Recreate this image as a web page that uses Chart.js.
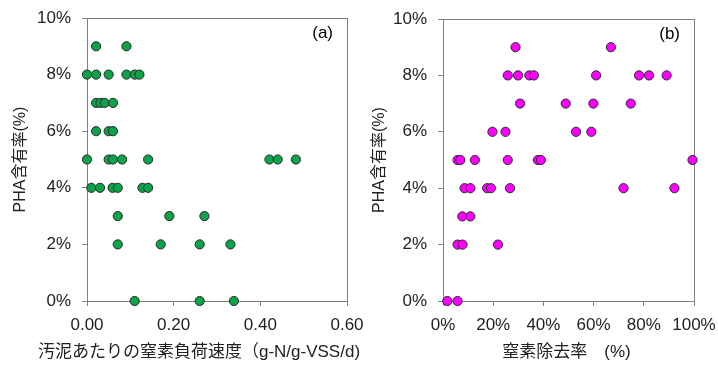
<!DOCTYPE html>
<html>
<head>
<meta charset="utf-8">
<script src="https://cdn.jsdelivr.net/npm/chart.js@4/dist/chart.umd.min.js"></script>
<style>
  body { margin: 0; background: #fff; }
  canvas { position: absolute; top: 0; }
  #chartA { left: 0; }
  #chartB { left: 359px; }
</style>
</head>
<body>
<canvas id="chartA" width="380" height="365"></canvas>
<canvas id="chartB" width="359" height="365"></canvas>
<script>
// (a) nitrogen loading rate per sludge vs PHA content
var loadRate = [0.021, 0.091,
  0.0, 0.021, 0.050, 0.091, 0.110, 0.121,
  0.021, 0.031, 0.041, 0.060,
  0.021, 0.050, 0.060,
  0.0, 0.050, 0.060, 0.081, 0.141, 0.421, 0.440, 0.482,
  0.010, 0.030, 0.059, 0.071, 0.128, 0.141,
  0.071, 0.190, 0.271,
  0.071, 0.170, 0.260, 0.331,
  0.110, 0.260, 0.339];
var phaA = [9, 9,
  8, 8, 8, 8, 8, 8,
  7, 7, 7, 7,
  6, 6, 6,
  5, 5, 5, 5, 5, 5, 5, 5,
  4, 4, 4, 4, 4, 4,
  3, 3, 3,
  2, 2, 2, 2,
  0, 0, 0];

// (b) nitrogen removal rate vs PHA content
var removalRate = [28.9, 66.9,
  25.8, 29.9, 34.4, 36.2, 61.0, 78.1, 82.1, 89.1,
  30.7, 48.9, 59.9, 74.8,
  19.7, 24.9, 53.0, 59.1,
  5.8, 6.9, 12.7, 25.8, 37.8, 39.0, 99.4,
  8.6, 10.9, 17.6, 19.1, 26.7, 71.9, 92.2,
  7.7, 10.9,
  5.8, 7.8, 21.9,
  1.7, 5.8];
var phaB = [9, 9,
  8, 8, 8, 8, 8, 8, 8, 8,
  7, 7, 7, 7,
  6, 6, 6, 6,
  5, 5, 5, 5, 5, 5, 5,
  4, 4, 4, 4, 4, 4, 4,
  3, 3,
  2, 2, 2,
  0, 0];

var yTicks = [0, 2, 4, 6, 8, 10];
var xTicksA = [0, 0.2, 0.4, 0.6];
var xTicksB = [0, 20, 40, 60, 80, 100];

var FONT = "'Liberation Sans', 'Noto Sans CJK JP', sans-serif";
var AXIS = '#808080';
var TEXT = '#222';

function toPoints(xs, ys) {
  var pts = [];
  for (var i = 0; i < xs.length; i++) pts.push({x: xs[i], y: ys[i]});
  return pts;
}

// box round the plot, panel tag and x title
function framePlugin(tag, xTitle, shift) {
  return {
    id: 'frame',
    beforeDatasetsDraw: function(chart) {
      var a = chart.chartArea, ctx = chart.ctx;
      ctx.save();
      ctx.strokeStyle = AXIS;
      ctx.lineWidth = 1;
      ctx.strokeRect(a.left + 0.5, a.top + 0.5, a.right - a.left, a.bottom - a.top);
      ctx.fillStyle = '#000';
      ctx.font = '17px ' + FONT;
      ctx.textAlign = 'right';
      ctx.textBaseline = 'middle';
      ctx.fillText(tag, a.right - 14, a.top + 15);
      ctx.fillStyle = TEXT;
      ctx.textAlign = 'center';
      ctx.fillText(xTitle, (a.left + a.right) / 2 + shift, a.bottom + 51);
      ctx.restore();
    }
  };
}

function makeChart(id, tag, xs, ys, color, xTicks, xMax, xFmt, xTitle, shift, yWidth, pad) {
  return new Chart(document.getElementById(id), {
    type: 'scatter',
    data: {
      datasets: [{
        data: toPoints(xs, ys),
        backgroundColor: color,
        borderColor: '#2a2a2a',
        borderWidth: 1,
        pointRadius: 4.6,
        clip: false
      }]
    },
    options: {
      responsive: false,
      animation: false,
      layout: { padding: pad },
      plugins: { legend: { display: false }, tooltip: { enabled: false } },
      scales: {
        x: {
          type: 'linear', min: 0, max: xMax,
          afterBuildTicks: function(s) { s.ticks = xTicks.map(function(v) { return {value: v}; }); },
          afterFit: function(s) { s.height = 64; s.paddingLeft = 0; s.paddingRight = 0; },
          ticks: { color: TEXT, font: { family: FONT, size: 17 }, padding: 9, callback: xFmt, maxRotation: 0 },
          grid: { display: true, drawOnChartArea: false, drawTicks: true, tickLength: 5, color: AXIS },
          border: { color: AXIS }
        },
        y: {
          type: 'linear', min: 0, max: 10,
          afterBuildTicks: function(s) { s.ticks = yTicks.map(function(v) { return {value: v}; }); },
          afterFit: function(s) { s.width = yWidth; s.paddingTop = 0; s.paddingBottom = 0; },
          ticks: { color: TEXT, font: { family: FONT, size: 17 }, padding: 11, callback: function(v) { return v + '%'; } },
          grid: { display: true, drawOnChartArea: false, drawTicks: true, tickLength: 5, color: AXIS },
          border: { color: AXIS },
          title: { display: true, text: 'PHA含有率(%)', color: TEXT, font: { family: FONT, size: 16 }, padding: { top: 11, bottom: 4 } }
        }
      }
    },
    plugins: [framePlugin(tag, xTitle, shift)]
  });
}

makeChart('chartA', '(a)', loadRate, phaA, '#0aa34a', xTicksA, 0.6,
  function(v) { return v.toFixed(2); },
  '汚泥あたりの窒素負荷速度（g-N/g-VSS/d)', -18, 87, { top: 18, right: 33, left: 0, bottom: 0 });

makeChart('chartB', '(b)', removalRate, phaB, '#ff00ff', xTicksB, 100,
  function(v) { return v + '%'; },
  '窒素除去率　(%)', -2, 84, { top: 19, right: 24, left: 0, bottom: 0 });
</script>
</body>
</html>
